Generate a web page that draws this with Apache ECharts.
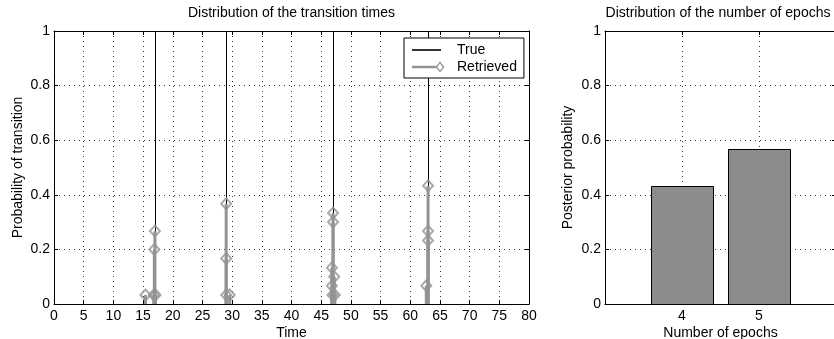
<!DOCTYPE html>
<html>
<head>
<meta charset="utf-8">
<script src="https://cdn.jsdelivr.net/npm/echarts@6/dist/echarts.min.js"></script>
<style>
  html, body { margin: 0; padding: 0; background: #fff; }
  #chart { width: 834px; height: 339px; }
</style>
</head>
<body>
<div id="chart"></div>
<script>
// True transition times (vertical reference lines spanning the full probability range)
const trueTimes = [17, 29, 47, 63];
const trueLevels = [1, 1, 1, 1];

// Retrieved transition times and their posterior probabilities (stem plot)
const retrievedTimes = [15.4, 16.8, 17.1, 16.9, 17.0,
                        29.0, 29.0, 29.0, 29.6,
                        47.0, 47.0, 46.8, 47.2, 46.8, 46.9, 47.3,
                        63.0, 63.0, 63.0, 62.7];
const retrievedProbs = [0.033, 0.033, 0.033, 0.200, 0.267,
                        0.367, 0.167, 0.033, 0.033,
                        0.333, 0.300, 0.133, 0.100, 0.067, 0.033, 0.033,
                        0.433, 0.267, 0.233, 0.067];

// Posterior distribution of the number of epochs
const epochCounts = [4, 5];
const epochProbs = [0.433, 0.567];

// Tick settings
const timeTicks = { min: 0, max: 80, step: 5 };
const probTicks = { min: 0, max: 1, step: 0.2 };
const epochTickLabels = ['4', '5'];

const FONT = "'Liberation Sans', Arial, Helvetica, sans-serif";
const STEM_GRAY = '#939393';
const BAR_GRAY = '#8c8c8c';

const chart = echarts.init(document.getElementById('chart'), null, { renderer: 'canvas' });

const baseText = { color: '#000', fontSize: 14, fontFamily: FONT };
const gridDots = { show: true, lineStyle: { color: '#333', width: 1, type: [1, 4] } };

function mainAxis(extra) {
  return Object.assign({
    type: 'value',
    nameMoveOverlap: false,
    axisLine: { show: true, onZero: false, lineStyle: { color: '#000', width: 1 } },
    axisTick: { show: true, inside: true, length: 4, lineStyle: { color: '#000', width: 1 } },
    axisLabel: Object.assign({}, baseText),
    splitLine: gridDots,
    nameTextStyle: Object.assign({}, baseText)
  }, extra);
}
function boxAxis(extra) {
  return Object.assign({
    type: 'value',
    axisLine: { show: true, onZero: false, lineStyle: { color: '#000', width: 1 } },
    axisTick: { show: true, inside: true, length: 4, lineStyle: { color: '#000', width: 1 } },
    axisLabel: { show: false },
    splitLine: { show: false }
  }, extra);
}

const epochTickFilter = (i, v) => epochTickLabels.indexOf(String(v)) >= 0;

const trueData = trueTimes.map((t, i) => [t, trueLevels[i]]);
const retrievedData = retrievedTimes.map((t, i) => [t, retrievedProbs[i]]);
const epochData = epochCounts.map((n, i) => [n, epochProbs[i]]);

const option = {
  animation: false,
  backgroundColor: '#fff',
  textStyle: { fontFamily: FONT },
  title: [
    { text: 'Distribution of the transition times', left: 291.5, top: 6, textAlign: 'center', padding: 0,
      textStyle: { color: '#000', fontSize: 14, fontWeight: 'normal', fontFamily: FONT } },
    { text: 'Distribution of the number of epochs', left: 718, top: 6, textAlign: 'center', padding: 0,
      textStyle: { color: '#000', fontSize: 14, fontWeight: 'normal', fontFamily: FONT } }
  ],
  grid: [
    { left: 54, top: 31, width: 475, height: 273, containLabel: false, outerBoundsMode: 'none' },
    { left: 605, top: 31, width: 231, height: 273, containLabel: false, outerBoundsMode: 'none' }
  ],
  legend: {
    orient: 'vertical',
    left: 404, top: 38,
    backgroundColor: '#fff',
    borderColor: '#000', borderWidth: 1, borderRadius: 0,
    padding: [4, 7, 3, 8],
    itemGap: 1,
    itemWidth: 40, itemHeight: 12,
    selectedMode: false,
    textStyle: { color: '#000', fontSize: 14, fontFamily: FONT, lineHeight: 16 },
    data: [
      { name: 'True',
        icon: 'path://M0,0 M40,12 M0,5.2 L29,5.2 L29,6.8 L0,6.8 Z' },
      { name: 'Retrieved',
        icon: 'path://M0,0 M40,12 M0,4.7 L24,4.7 L24,7.3 L0,7.3 Z M28,0.5 L32.5,6 L28,11.5 L23.5,6 Z M28,2.6 L25.3,6 L28,9.4 L30.7,6 Z' }
    ]
  },
  xAxis: [
    mainAxis({ gridIndex: 0, position: 'bottom', min: timeTicks.min, max: timeTicks.max, interval: timeTicks.step,
      name: 'Time', nameLocation: 'middle', nameGap: 22,
      axisLabel: Object.assign({}, baseText, { margin: 5 }) }),
    boxAxis({ gridIndex: 0, position: 'top', min: timeTicks.min, max: timeTicks.max, interval: timeTicks.step }),
    mainAxis({ gridIndex: 1, position: 'bottom', min: 3, max: 6, interval: 1,
      name: 'Number of epochs', nameLocation: 'middle', nameGap: 22,
      axisLabel: Object.assign({}, baseText, { margin: 5,
        formatter: v => (epochTickLabels.indexOf(String(v)) >= 0 ? String(v) : '') }),
      axisTick: { show: true, inside: true, length: 4, lineStyle: { color: '#000' }, interval: epochTickFilter } }),
    boxAxis({ gridIndex: 1, position: 'top', min: 3, max: 6, interval: 1,
      axisTick: { show: true, inside: true, length: 4, lineStyle: { color: '#000' }, interval: epochTickFilter } })
  ],
  yAxis: [
    mainAxis({ gridIndex: 0, position: 'left', min: probTicks.min, max: probTicks.max, interval: probTicks.step,
      name: 'Probability of transition', nameLocation: 'middle', nameGap: 29,
      axisLabel: Object.assign({}, baseText, { margin: 4 }) }),
    boxAxis({ gridIndex: 0, position: 'right', min: probTicks.min, max: probTicks.max, interval: probTicks.step }),
    mainAxis({ gridIndex: 1, position: 'left', min: probTicks.min, max: probTicks.max, interval: probTicks.step,
      name: 'Posterior probability', nameLocation: 'middle', nameGap: 30,
      axisLabel: Object.assign({}, baseText, { margin: 4 }) }),
    boxAxis({ gridIndex: 1, position: 'right', min: probTicks.min, max: probTicks.max, interval: probTicks.step })
  ],
  series: [
    {
      name: 'True',
      type: 'custom',
      xAxisIndex: 0, yAxisIndex: 0,
      itemStyle: { color: '#000' },
      data: trueData,
      clip: true,
      renderItem: (params, api) => {
        const p0 = api.coord([api.value(0), 0]);
        const p1 = api.coord([api.value(0), api.value(1)]);
        const x = Math.round(p0[0]) + 0.5;
        return { type: 'line', shape: { x1: x, y1: p0[1], x2: x, y2: p1[1] },
                 style: { stroke: '#000', lineWidth: 1 } };
      },
      z: 2
    },
    {
      name: 'Retrieved',
      type: 'custom',
      xAxisIndex: 0, yAxisIndex: 0,
      itemStyle: { color: STEM_GRAY },
      data: retrievedData,
      clip: true,
      renderItem: (params, api) => {
        const p0 = api.coord([api.value(0), 0]);
        const p1 = api.coord([api.value(0), api.value(1)]);
        return { type: 'line', shape: { x1: p0[0], y1: p0[1], x2: p1[0], y2: p1[1] },
                 style: { stroke: STEM_GRAY, lineWidth: 3 } };
      },
      z: 3
    },
    {
      name: 'Retrieved',
      type: 'scatter',
      xAxisIndex: 0, yAxisIndex: 0,
      symbol: 'diamond',
      symbolSize: [10, 11],
      itemStyle: { color: 'rgba(255,255,255,0)', borderColor: STEM_GRAY, borderWidth: 2 },
      data: retrievedData,
      z: 4
    },
    {
      name: 'Epochs',
      type: 'custom',
      xAxisIndex: 2, yAxisIndex: 2,
      data: epochData,
      renderItem: (params, api) => {
        const x = api.value(0), y = api.value(1);
        const tl = api.coord([x - 0.4, y]);
        const br = api.coord([x + 0.4, 0]);
        return { type: 'rect',
                 shape: { x: Math.round(tl[0]) + 0.5, y: Math.round(tl[1]) + 0.5,
                          width: Math.round(br[0] - tl[0]), height: Math.round(br[1] - tl[1]) },
                 style: { fill: BAR_GRAY, stroke: '#000', lineWidth: 1 } };
      },
      z: 3
    }
  ]
};

chart.setOption(option);
</script>
</body>
</html>
